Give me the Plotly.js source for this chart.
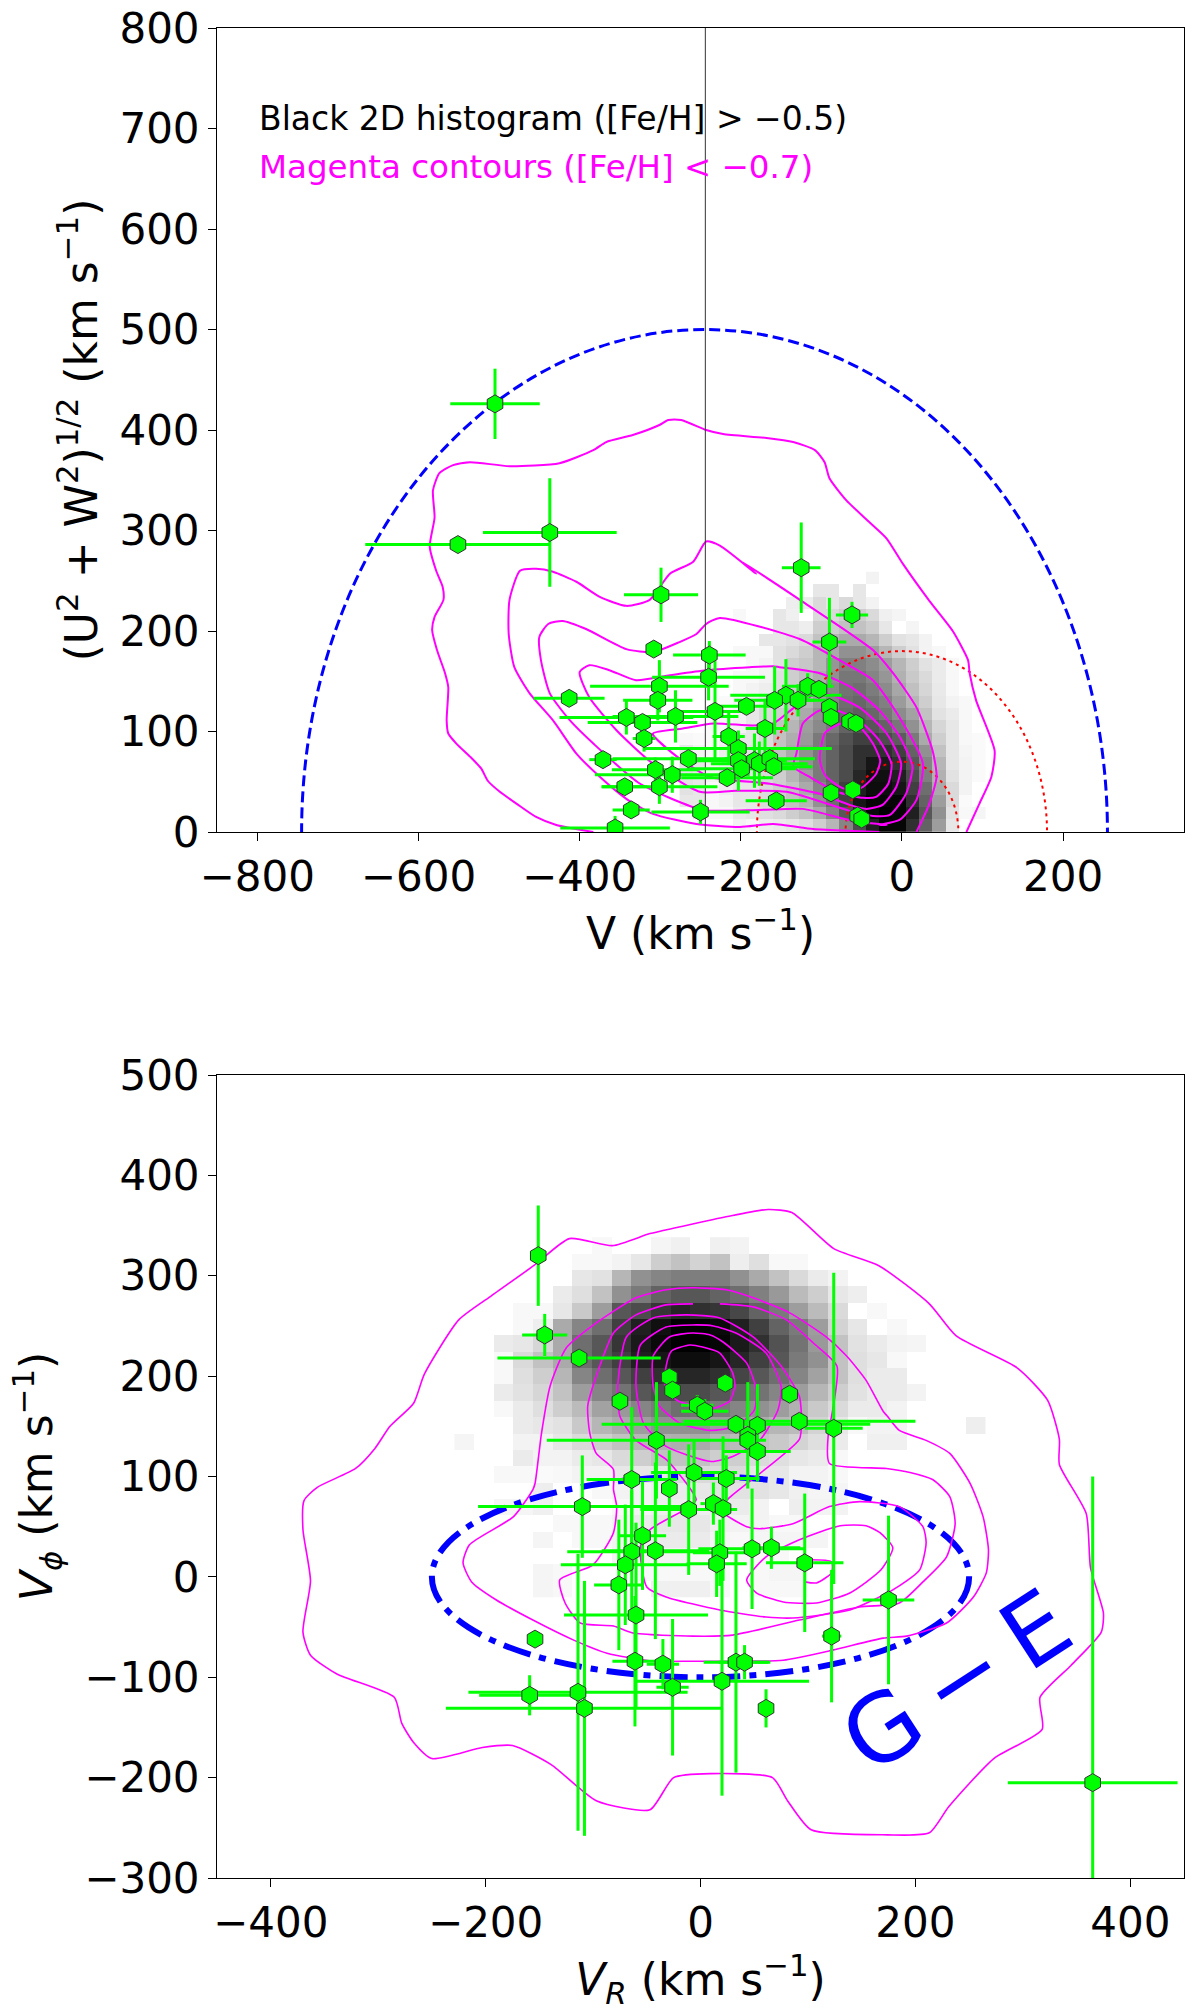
<!DOCTYPE html>
<html><head><meta charset="utf-8">
<script src="https://cdn.plot.ly/plotly-3.0.1.min.js"></script>
<style>html,body{margin:0;padding:0;background:#fff}</style></head>
<body><div id="chart" style="width:1200px;height:2012px"></div>
<script>
// ---- top panel: 2D histogram darkness, bottom row first; 23 columns (V from -276, bin 16.5), 21 rows (bin 12.33)
const heatTop = [
[0,0,0,0,.5,.3,.7,.8,1,1.3,2,3,5,7.5,9,9.8,9.8,8.5,6.5,4,1,0,0],
[0,.8,.3,.3,.8,1,1.3,1.5,2,2.5,3.5,5,7,8.8,9.7,10,9.8,9,7,4.5,1.2,.3,.4],
[1,1,.3,.5,1,1,1.5,2,2.5,3,4.5,6,8,9.3,9.8,9.8,9.8,8.5,6.5,4,1.5,.2,0],
[1.2,1,.3,.7,1,1,1.5,2,2.5,3.5,5,6.2,8,9,9.6,9.6,9.3,8,6,3.5,1.5,.5,0],
[1.2,1,.5,1,1,1.2,1.6,2,3,4,5.5,6.5,7.5,8.8,9.5,9.5,9,7.5,5.3,3.2,1.2,.5,.2],
[1.2,1,.5,.7,1,1.2,1.8,2.5,3.5,4.5,5.5,6.5,7.5,8.5,9.3,9.2,8.5,7,5,3,1,.5,.2],
[1,.5,.3,.7,1,1.2,1.5,2.5,3.5,4.5,5.5,6.5,7.5,8.5,8.5,8.5,8,6.5,4.5,2.5,1,.4,.2],
[.3,.2,.2,.5,1,1,1.5,2.5,3.3,4.2,5.5,6.2,7.2,8,8,7.5,6.8,5.5,3.5,2,1,.3,.2],
[0,0,.2,.3,.5,1,1.5,2.5,3,4,4.8,5.5,6.5,7.2,7,6.5,5.6,4.5,3,1.7,1,.3,0],
[0,0,0,.3,.5,1,1.5,2,2.5,3.5,4.5,5.2,6.2,6.7,6.3,5.6,4.7,3.8,2.5,1.2,.8,.3,0],
[0,0,0,.2,.5,.7,1,1.5,2.2,3,4,5,6,6.3,5.8,5.2,4.1,3,2,1,.5,.3,0],
[0,0,0,0,.3,.5,.7,1.3,2,2.8,3.7,4.8,5.8,6,5.4,4.7,3.6,2.6,1.7,.9,.3,0,0],
[0,0,0,0,.3,.3,.5,1.3,2,2.6,3.3,4.5,5.6,5.6,5,4.3,3.2,2.2,1.5,.8,.3,0,0],
[0,0,0,0,0,.3,.5,1.2,2,2.3,3,4.3,5.2,5.2,4.7,4,3,2,1.2,.8,.3,0,0],
[0,0,0,0,.3,.3,.3,1.2,1.5,2,3,3.5,4.5,4.5,4,3,2,1.2,.5,.3,0,0,0],
[0,0,0,0,0,0,1,1,1.2,1.5,2.5,3,3.5,3.5,3,2,1.2,1,.5,0,0,0,0],
[0,0,0,0,0,0,0,1,1,.7,2,2,2.5,2.5,2,1,0,.4,0,0,0,0,0],
[0,0,0,0,.3,0,0,1,.6,0,1.5,1.5,2,2,1.5,.6,.4,0,0,0,0,0,0],
[0,0,0,0,0,0,0,0,.7,.7,1.5,1,1.5,1,.5,0,0,0,0,0,0,0,0],
[0,0,0,0,0,0,0,0,0,0,1,1,0,1,0,0,0,0,0,0,0,0,0],
[0,0,0,0,0,0,0,0,0,0,0,0,0,0,.5,0,0,0,0,0,0,0,0]
];
// ---- bottom panel: 27 columns (VR from -229, bin 18.3), 22 rows (Vphi from -20.2, bin 16.3)
const heatBottom = [
[0,0,0,0,.4,.3,0,0,0,0,.6,.6,.6,.3,0,.3,.3,.3,0,0,0,0,0,0,0,0,0],
[0,0,0,0,.4,.3,0,0,0,.3,.3,.3,.3,.3,0,.3,.4,.4,0,0,0,0,0,0,0,0,0],
[0,0,0,0,0,0,0,0,.5,.5,.5,.5,.3,0,.3,.3,.3,0,0,0,0,0,0,0,0,0,0],
[0,0,0,0,.4,0,.3,.3,.5,.7,.8,.8,.8,.4,.3,.4,.4,.4,.4,0,0,0,0,0,0,0,0],
[0,0,0,0,0,.3,.3,.3,.5,.8,1,1,1,.6,.5,.5,.3,.3,0,0,0,0,0,0,0,0,0],
[0,0,.4,.4,.6,0,0,0,.3,.5,.7,.7,.7,.8,.8,.5,0,.7,.5,.5,0,0,0,0,0,0,0],
[0,0,0,0,.7,0,0,.3,.5,.5,.7,.8,1,1.2,1.2,1.2,1,.6,.4,.4,0,0,0,0,0,0,0],
[0,0,.3,.3,.2,.3,.5,.5,1,1,1,1.5,1.5,1.5,1.5,1,1,.5,.5,.3,0,0,0,0,0,0,0],
[0,0,0,.8,.5,.5,.8,1,1.5,2,2.5,2.5,2.5,2,2,1.5,1.3,1,.8,.3,0,0,0,0,0,0,0],
[.4,0,0,.5,.5,1,1.5,2,2.5,3,3.2,3.3,3.5,3,2.8,2.5,2.2,1.8,1.3,.8,0,.6,.6,0,0,0,0],
[0,0,0,.8,1,1.2,2.2,3,3.5,4,4.5,4.5,4.5,4,4,3.5,3,2.8,1.8,1,.3,.5,.5,0,0,0,.7],
[0,0,.3,.8,1.3,2,2.8,3.8,4.2,5,5.5,6,5.8,5.5,5,4.5,4,3.2,2.2,1.5,.8,.8,.5,0,0,0,0],
[0,0,.8,1.2,1.7,2.5,4,5,5.8,7,7.5,7.5,7.5,7,6.5,5.8,5,4,3,2,1.2,.8,.8,.5,0,0,0],
[0,0,.3,1.3,2,3,5,6,7,8,8.5,8.8,8.8,8.5,7.8,7,6,5,3.8,2.5,1.3,.8,.8,0,0,0,0],
[0,0,.3,1.5,2.5,3.5,6,7,8,9,9.3,9.6,9.6,9.3,8.8,8,7,5.5,4.5,2.5,1.3,1,.3,0,0,0,0],
[0,0,.8,1,1.7,3.5,6,7,8.3,9.2,9.7,10,10,9.8,9.2,8.5,7.2,5.8,4.2,2.5,1.2,.8,.5,.4,0,0,0],
[0,0,0,.3,.7,3.5,5,6,8,9,9.5,10,10,9.7,9,8,6.5,5.5,4,1.8,1,0,.3,0,0,0,0],
[0,0,0,.3,.3,1,2.2,4,7,7.5,8.3,8.8,8.5,8.3,7.7,6.5,5.5,4,2.8,1.5,0,.3,0,0,0,0,0],
[0,0,0,0,0,.8,1.3,2.5,4.5,5.5,6.5,7,7,6.5,6,5.2,4.2,2.8,2,1,.7,0,0,0,0,0,0],
[0,0,0,0,0,0,1,1.2,3,4.5,5,5.3,5.3,5.3,4.5,3.5,2.5,1.5,.8,.5,0,0,0,0,0,0,0],
[0,0,0,0,0,0,.3,.3,.5,1,2,2.5,1.8,2.5,.7,1.3,.3,.3,0,0,0,0,0,0,0,0,0],
[0,0,0,0,0,0,0,.3,0,0,.4,.6,0,.6,.5,0,0,0,0,0,0,0,0,0,0,0,0]
];

// ---- top panel contours [V, U]
const topContourV = [
[-383,-429,-454,-478,-499,-514,-522,-536,-553,-563,-565,-563,-567,-577,-583,-580,-569,-570,-578,-586,-580,-582,-574,-557,-536,-487,-425,-383,-367,-334,-301,-290,-274,-243,-222,-168,-135,-108,-96,-90,-69,-40,-19,1,34,63,82,84,92,115,111,96,80],
[18,34,43,38,18,-11,-36,-123,-201,-181,-226,-243,-259,-288,-313,-342,-375,-404,-433,-454,-474,-487,-488,-481,-462,-433,-404,-375,-342,-309,-255,-201,-160,-110,-61,-28],
[-28,-3,18,26,-3,-36,-69,-127,-226,-243,-255,-276,-309,-342,-392,-421,-439,-450,-448,-437,-412,-383,-325,-247,-177,-123,-61,-19,-28],
[13,5,-15,-36,-65,-143,-206,-251,-309,-354,-388,-400,-388,-363,-330,-288,-243,-189,-160,-152,-102,-61,-28,-3,13],
[-1,-7,-24,-44,-65,-102,-164,-239,-284,-309,-272,-234,-185,-160,-135,-102,-53,-19,-1],
[-13,-17,-32,-48,-81,-115,-135,-131,-123,-102,-81,-53,-28,-13],
[-27,-32,-48,-61,-77,-94,-100,-102,-96,-86,-63,-48,-36,-27]
];
const topContourU = [
[0,7,15,28,40,51,63,75,88,98,111,144,158,181,201,214,231,244,260,284,313,340,357,365,368,364,367,380,388,395,405,410,410,400,396,392,388,380,368,352,330,308,292,267,230,200,171,158,131,81,55,28,0],
[0,28,55,81,124,158,181,229,270,257,285,289,269,257,231,225,234,249,259,262,260,231,197,164,138,111,78,55,33,18,8,5,8,3,1,0],
[7,12,32,68,114,151,167,192,213,207,197,189,179,182,202,210,207,194,171,138,111,88,48,22,22,23,11,7,7],
[65,38,17,16,21,40,41,40,68,101,134,159,166,161,151,156,161,164,165,164,158,143,121,95,65],
[68,45,27,23,27,38,48,55,78,98,103,108,106,108,123,139,124,98,68],
[68,48,35,34,40,55,65,78,108,121,121,111,91,68],
[71,58,45,41,45,55,65,75,98,104,111,101,88,71]
];

// ---- bottom panel contours [VR, Vphi]
const botContourR = [
[-369,-357,-321,-303,-289,-267,-257,-225,-196,-154,-122,-82,-47,-22,25,63,85,124,166,213,238,295,323,334,334,359,363,375,373,345,316,318,273,231,213,174,103,81,67,10,-25,-47,-97,-139,-175,-203,-250,-267,-278,-285,-338,-363,-370,-363,-370,-369],
[-7,-32,-60,-97,-125,-140,-148,-154,-156,-174,-215,-221,-213,-190,-156,-118,-87,-44,-7,37,77,123,170,192,229,254,266,268,263,251,232,210,185,174,170,154,136,117,83,49,24,-7],
[-7,-32,-60,-81,-97,-105,-103,-97,-81,-81,-78,-81,-100,-131,-126,-112,-81,-63,-7,30,92,148,185,207,229,237,232,216,195,173,120,119,123,127,105,80,49,18,-7],
[-13,-44,-69,-77,-75,-60,-32,-13,-4,-13,-47,-56,-50,-32,18,61,86,139,179,204,210,207,185,148,120,86,55,43,18,26,92,94,92,75,49,18,-13],
[-7,-32,-56,-60,-53,-32,10,30,55,72,75,61,33,12,-7],
[-7,-29,-44,-44,-38,-19,9,33,50,52,43,21,9,-7],
[-10,-27,-32,-33,-22,-4,12,27,32,30,18,2,-10],
[43,52,77,108,139,168,179,167,154,130,92,61,43],
[97,108,122,122,97]
];
const botContourP = [
[76,89,108,128,150,173,202,256,279,311,337,330,342,348,359,366,363,327,310,272,240,208,176,137,112,63,9,-36,-55,-88,-120,-152,-181,-229,-255,-257,-252,-223,-200,-196,-200,-232,-223,-187,-168,-170,-181,-165,-146,-120,-97,-78,-55,-4,47,76],
[288,286,278,253,228,190,143,93,87,60,32,14,-5,-23,-43,-63,-76,-84,-84,-84,-83,-73,-61,-59,-46,-20,4,27,60,93,123,136,146,160,165,196,220,239,263,278,286,288],
[272,271,261,243,200,170,143,123,107,87,70,44,12,-3,-26,-46,-49,-56,-59,-58,-43,-30,-26,-5,20,53,80,97,104,108,113,143,166,210,233,256,269,272],
[261,258,239,190,160,136,117,93,77,68,47,30,-10,-20,-33,-40,-41,-33,-13,7,34,50,70,75,70,53,48,50,67,78,137,156,180,210,239,258,261],
[251,249,231,190,153,130,115,120,136,166,190,223,243,250,251],
[243,239,220,190,170,153,146,150,166,186,213,234,241,243],
[231,225,210,190,176,170,168,175,190,203,223,229,231],
[-3,-16,-25,-26,-16,7,29,44,51,51,37,20,-3],
[-5,-6,4,15,17]
];

// ---- green stars, top panel
const starV = [-505,-437,-551,-299,-125,-62,-90,-308,-239,-240,-301,-117,-103,-144,-158,-129,-303,-413,-193,-90,-88,-65,-57,-232,-281,-322,-342,-320,-170,-215,-203,-371,-265,-203,-183,-177,-164,-159,-199,-306,-285,-217,-344,-301,-88,-61,-156,-336,-250,-356,-55,-50];
const starU = [426,298,286,236,263,216,189,182,176,154,145,145,142,136,131,131,131,133,125,124,114,110,108,120,115,109,114,93,103,95,83,72,73,71,71,68,73,65,63,62,57,54,45,45,39,42,31,22,20,4,16,13];
const starVerr = [55.5,83,115,46,24,20,21,4,45,70,86,32,6,69,50,42,43,44,40,6,6,5,5,45,78,68,83,14,24,20,116,17,94,60,40,60,56,48,68,54,96,57,28,72,5,5,38,23,61,68,5,5];
const starUerr = [35,54,6,27,45,13,44,4,14,23,26,13,6,36,34,16,20,4,4,6,6,5,5,50,26,8,17,13,29,26,15,5,5,30,27,22,6,6,8,12,18,6,5,17,5,5,6,5,12,12,5,5];
// ---- green stars, bottom panel
const starR = [-151,-145,-113,-29,-26,23,83,-75,-3,4,33,92,53,124,-41,44,44,53,-6,24,-64,-29,-110,-11,12,21,-54,-64,-42,48,66,18,97,-70,15,-76,-60,175,122,-154,-61,-35,33,41,20,-26,-114,-159,-108,61,365];
const starP = [320,241,218,199,186,193,182,175,171,165,152,155,151,148,136,141,136,125,104,98,97,88,70,67,73,68,41,25,26,28,29,24,14,12,13,-8,-38,-23,-59,-62,-84,-87,-85,-85,-104,-110,-115,-118,-131,-131,-205];
const starRerr = [3,21,76,3,3,3,3,3,15,22,125,108,5,27,102,5,5,31,40,31,42,4,97,45,12,4,22,60,50,50,27,25,36,60,28,23,67,24,9,2,21,15,30,24,81,15,102,47,129,4,79];
const starPerr = [50,21,4,3,3,3,3,3,10,12,6,4,41,155,58,53,5,30,33,23,72,38,51,65,21,72,54,61,88,60,21,33,69,60,33,65,92,84,66,2,65,25,110,17,114,68,138,20,127,19,305];

const medianLineV = [-244,-244];
const medianLineU = [0,800];
const xTicksTop = [-800,-600,-400,-200,0,200];
const yTicksTop = [0,100,200,300,400,500,600,700,800];
const xTicksBot = [-400,-200,0,200,400];
const yTicksBot = [-300,-200,-100,0,100,200,300,400,500];

const TICK = 42, TITLE = 44;
const font = {family:'"DejaVu Sans", sans-serif', color:'#000', size:TICK};
const H = 2012, T = 28, B = 134, L = 217, R = 15.5, PH = H-T-B;
const dTop = [1-804/PH, 1], dBot = [0, 1-1047/PH];

function heat(z,x0,dx,y0,dy,xa,ya){
  return {type:'heatmap',z,x0,dx,y0,dy,xaxis:xa,yaxis:ya,zmin:0,zmax:10,showscale:false,hoverinfo:'skip',
    colorscale:[[0,'#ffffff'],[0.5,'#858585'],[0.8,'#404040'],[0.9,'#202020'],[1,'#000000']]};
}
function lines(xs,ys,xa,ya,w){
  return xs.map((x,i)=>({type:'scatter',mode:'lines',x,y:ys[i],xaxis:xa,yaxis:ya,hoverinfo:'skip',
    line:{color:'#ff00ff',width:w,shape:'spline',smoothing:0.6},showlegend:false}));
}
function stars(x,y,ex,ey,xa,ya){
  const eb=a=>({type:'data',array:a,visible:true,color:'#00ff00',thickness:3,width:0});
  return {type:'scatter',mode:'markers',x,y,xaxis:xa,yaxis:ya,error_x:eb(ex),error_y:eb(ey),
    marker:{symbol:'hexagon',size:18,color:'#00ff00',line:{color:'#333333',width:1}},showlegend:false};
}
const traces = [
  heat(heatTop,-276+8.25,16.5,6.17,12.33,'x','y'),
  heat(heatBottom,-229+9.15,18.3,-20.2+8.15,16.3,'x3','y3'),
  ...lines(topContourV,topContourU,'x2','y2',2),
  {type:'scatter',mode:'lines',x:medianLineV,y:medianLineU,xaxis:'x2',yaxis:'y2',line:{color:'#333333',width:1},hoverinfo:'skip',showlegend:false},
  stars(starV,starU,starVerr,starUerr,'x2','y2'),
  ...lines(botContourR,botContourP,'x4','y4',1.6),
  stars(starR,starP,starRerr,starPerr,'x4','y4')
];
const hidden = (range,domain,anchor)=>({range,domain,anchor,visible:false,showticklabels:false,ticks:'',fixedrange:true});
const axis = (range,domain,anchor,tickvals,title,standoff)=>({range,domain,anchor,tickmode:'array',tickvals,
  ticks:'outside',ticklen:8,tickwidth:1,tickcolor:'#000',showline:true,linecolor:'#000',linewidth:1,mirror:true,
  showgrid:false,zeroline:false,tickfont:font,title:{text:title,font:{family:font.family,size:TITLE,color:'#000'},standoff}});
const layout = {
  width:1200,height:H,margin:{l:L,r:R,t:T,b:B,pad:0},paper_bgcolor:'#fff',plot_bgcolor:'rgba(0,0,0,0)',showlegend:false,
  xaxis:hidden([-850,350],[0,1],'y'),yaxis:hidden([0,800],dTop,'x'),
  xaxis3:hidden([-450,450],[0,1],'y3'),yaxis3:hidden([-300,500],dBot,'x3'),
  xaxis2:axis([-850,350],[0,1],'y2',xTicksTop,'V (km s<sup>−1</sup>)',6),
  yaxis2:axis([0,800],dTop,'x2',yTicksTop,'(U<sup>2</sup> + W<sup>2</sup>)<sup>1/2</sup> (km s<sup>−1</sup>)',8),
  xaxis4:axis([-450,450],[0,1],'y4',xTicksBot,'<i>V<sub>R</sub></i> (km s<sup>−1</sup>)',10),
  yaxis4:axis([-300,500],dBot,'x4',yTicksBot,'<i>V<sub>ϕ</sub></i> (km s<sup>−1</sup>)',17),
  shapes:[
    {type:'circle',xref:'x2',yref:'y2',x0:-745,x1:255,y0:-500,y1:500,layer:'between',line:{color:'#0000ff',width:3,dash:'11px,5px'}},
    {type:'circle',xref:'x2',yref:'y2',x0:-180,x1:180,y0:-180,y1:180,layer:'between',line:{color:'#ff0000',width:2,dash:'3px,4px'}},
    {type:'circle',xref:'x2',yref:'y2',x0:-70,x1:70,y0:-70,y1:70,layer:'between',line:{color:'#ff0000',width:2,dash:'3px,4px'}},
    {type:'circle',xref:'x4',yref:'y4',x0:-250,x1:250,y0:-100,y1:100,layer:'between',line:{color:'#0000ff',width:6,dash:'28px,9px,7px,9px'}}
  ],
  annotations:[
    {xref:'x2',yref:'y2',x:-800,y:710,xanchor:'left',yanchor:'middle',showarrow:false,text:'Black 2D histogram ([Fe/H] > −0.5)',font:{family:font.family,size:33,color:'#000'}},
    {xref:'x2',yref:'y2',x:-800,y:662,xanchor:'left',yanchor:'middle',showarrow:false,text:'Magenta contours ([Fe/H] < −0.7)',font:{family:font.family,size:32.5,color:'#ff00ff'}},
    {xref:'x4',yref:'y4',x:238,y:-104,xanchor:'center',yanchor:'middle',showarrow:false,text:'G\u2009−\u2009E',textangle:-33,font:{family:font.family,size:94,color:'#0000ff'}}
  ]
};
Plotly.newPlot('chart',traces,layout,{staticPlot:true,displayModeBar:false});
</script></body></html>
